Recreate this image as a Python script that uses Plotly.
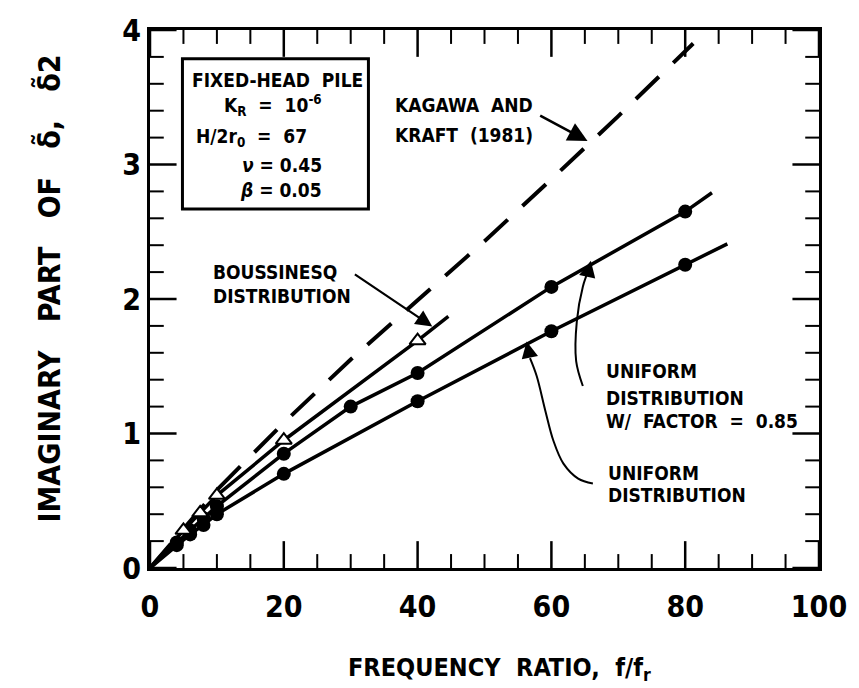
import numpy as np
import plotly.graph_objects as go

# ---- data -------------------------------------------------------------
# uniform distribution (solid circles)
uni_x = [4, 6, 8, 10, 20, 40, 60, 80]
uni_y = [0.17, 0.25, 0.32, 0.40, 0.70, 1.24, 1.76, 2.255]
uni_end = [86.3, 2.41]

# uniform distribution with factor 0.85 (solid circles)
fac_x = [4, 6, 8, 10, 20, 30, 40, 60, 80]
fac_y = [0.19, 0.28, 0.37, 0.46, 0.85, 1.20, 1.45, 2.09, 2.65]
fac_end = [84.0, 2.79]

# Boussinesq distribution (open triangles)
bou_x = [5, 7.5, 10, 20, 40]
bou_y = [0.28, 0.41, 0.54, 0.95, 1.69]
bou_end = [44.6, 1.87]

# Kagawa and Kraft (1981), dashed
kk_x = [0, 10, 20, 30, 40, 50, 60, 70, 81.2]
kk_y = [0, 0.58, 1.08, 1.55, 1.99, 2.43, 2.89, 3.36, 3.90]

x_ticks = [0, 20, 40, 60, 80, 100]
y_ticks = [0, 1, 2, 3, 4]
x_minor_step = 5
y_minor_step = 0.2

FONT = "DejaVu Sans Condensed, DejaVu Sans, sans-serif"

W, H = 859, 688
M = dict(l=150, r=29, t=27, b=120)

fig = go.Figure()

def curve(xs, ys, end):
    return [0] + list(xs) + [end[0]], [0] + list(ys) + [end[1]]

for xs, ys, end in [(uni_x, uni_y, uni_end), (fac_x, fac_y, fac_end), (bou_x, bou_y, bou_end)]:
    lx, ly = curve(xs, ys, end)
    fig.add_trace(go.Scatter(x=lx, y=ly, mode="lines",
                             line=dict(color="black", width=3.5), hoverinfo="skip"))

fig.add_trace(go.Scatter(x=kk_x, y=kk_y, mode="lines",
                         line=dict(color="black", width=4, dash="32px,20px")))

fig.add_trace(go.Scatter(x=uni_x, y=uni_y, mode="markers",
                         marker=dict(symbol="circle", size=14, color="black")))
fig.add_trace(go.Scatter(x=fac_x, y=fac_y, mode="markers",
                         marker=dict(symbol="circle", size=14, color="black")))
fig.add_trace(go.Scatter(x=bou_x, y=bou_y, mode="markers",
                         marker=dict(symbol="triangle-up", size=14, color="white",
                                     line=dict(color="black", width=2))))

# curved leader lines for the uniform-distribution labels
fac_lead_x = [64.7, 63.7, 63.8, 64.7, 65.6]
fac_lead_y = [1.353, 1.538, 1.834, 2.092, 2.22]
uni_lead_x = [66.2, 64.0, 61.8, 60.3, 59.1, 57.8, 56.8]
uni_lead_y = [0.628, 0.665, 0.776, 0.946, 1.168, 1.427, 1.56]
for lx, ly in [(fac_lead_x, fac_lead_y), (uni_lead_x, uni_lead_y)]:
    fig.add_trace(go.Scatter(x=lx, y=ly, mode="lines",
                             line=dict(color="black", width=2, shape="spline", smoothing=1.0)))

# ---- inward tick marks on all four sides, drawn as line segments ----
x_lo, x_hi = x_ticks[0], x_ticks[-1]
y_lo, y_hi = y_ticks[0], y_ticks[-1]
x_per_px = (x_hi - x_lo) / (W - M["l"] - M["r"])
y_per_px = (y_hi - y_lo) / (H - M["t"] - M["b"])
MAJOR_LEN, MINOR_LEN = 27, 14

x_minor = [float(v) for v in np.arange(x_lo, x_hi + 1e-9, x_minor_step) if v not in x_ticks]
y_minor = [round(float(v), 6) for v in np.arange(y_lo, y_hi + 1e-9, y_minor_step)]
y_minor = [v for v in y_minor if v not in y_ticks]

def tick_segments(xvals, yvals, length_px):
    sx, sy = [], []
    dy = length_px * y_per_px
    dx = length_px * x_per_px
    for v in xvals:                      # bottom and top edges
        sx += [v, v, None, v, v, None]
        sy += [y_lo, y_lo + dy, None, y_hi, y_hi - dy, None]
    for v in yvals:                      # left and right edges
        sx += [x_lo, x_lo + dx, None, x_hi, x_hi - dx, None]
        sy += [v, v, None, v, v, None]
    return sx, sy

for xv, yv, length, width in [(x_ticks, y_ticks, MAJOR_LEN, 2.5),
                              (x_minor, y_minor, MINOR_LEN, 2)]:
    sx, sy = tick_segments(xv, yv, length)
    fig.add_trace(go.Scatter(x=sx, y=sy, mode="lines", hoverinfo="skip",
                             line=dict(color="black", width=width)))

ann = []

def arrow(x_tail, y_tail, x_tip, y_tip, width=2.2, size=1.5):
    ann.append(dict(x=x_tip, y=y_tip, ax=x_tail, ay=y_tail, xref="x", yref="y",
                    axref="x", ayref="y", text="", showarrow=True, arrowhead=2,
                    arrowsize=size, arrowwidth=width, arrowcolor="black"))

# arrows pointing to the curves
arrow(58.1, 3.37, 65.4, float(np.interp(65.4, kk_x, kk_y)) + 0.03, width=2.6)
bx, by = curve(bou_x, bou_y, bou_end)
arrow(30.4, 2.19, 42.2, float(np.interp(42.2, bx, by)) + 0.02)
fx, fy = curve(fac_x, fac_y, fac_end)
arrow(fac_lead_x[-1], fac_lead_y[-1], 65.9, float(np.interp(65.9, fx, fy)) + 0.03)
ux, uy = curve(uni_x, uni_y, uni_end)
arrow(uni_lead_x[-1], uni_lead_y[-1], 56.3, float(np.interp(56.3, ux, uy)) + 0.02)

def label(x, y, text, anchor="left", size=19):
    ann.append(dict(x=x, y=y, xref="x", yref="y", text=text, showarrow=False,
                    xanchor=anchor, yanchor="middle",
                    font=dict(family=FONT, size=size, color="black", weight="bold")))

# parameter box
label(19.1, 3.63, "FIXED-HEAD  PILE", anchor="center")
label(26.0, 3.44, "K<sub>R</sub>  =  10<sup>-6</sup>", anchor="right")
label(23.8, 3.20, "H/2r<sub>0</sub>  =  67", anchor="right")
label(26.0, 3.00, "<i>ν</i> = 0.45", anchor="right")
label(26.0, 2.81, "<i>β</i> = 0.05", anchor="right")

label(36.3, 3.446, "KAGAWA  AND")
label(36.3, 3.216, "KRAFT  (1981)")
label(9.1, 2.203, "BOUSSINESQ")
label(9.1, 2.026, "DISTRIBUTION")
label(67.9, 1.464, "UNIFORM")
label(67.9, 1.264, "DISTRIBUTION")
label(67.9, 1.094, "W/  FACTOR  =  0.85")
label(68.1, 0.710, "UNIFORM")
label(68.1, 0.540, "DISTRIBUTION")

# axis titles
ann.append(dict(x=0.522, y=-0.1885, xref="paper", yref="paper", showarrow=False,
                text="FREQUENCY  RATIO,  f/f<sub>r</sub>", xanchor="center", yanchor="middle",
                font=dict(family=FONT, size=25, color="black", weight="bold")))
ann.append(dict(x=-0.152, y=0.52, xref="paper", yref="paper", showarrow=False,
                text="IMAGINARY   PART   OF   δ\u0303,   δ\u03032", textangle=-90,
                xanchor="center", yanchor="middle",
                font=dict(family=FONT, size=30, color="black", weight="bold")))

shapes = [dict(type="rect", xref="x", yref="y", x0=4.85, x1=32.65, y0=2.669, y1=3.786,
               line=dict(color="black", width=3), fillcolor="rgba(0,0,0,0)")]

label_font = dict(family=FONT, size=30, color="black")

fig.update_layout(
    width=W, height=H,
    margin=M,
    paper_bgcolor="white", plot_bgcolor="white",
    showlegend=False,
    annotations=ann, shapes=shapes,
    xaxis=dict(range=[x_lo, x_hi], tickmode="array", tickvals=x_ticks,
               ticktext=[f"<b>{v}</b>" for v in x_ticks], showgrid=False,
               zeroline=False, showline=True, linecolor="black", linewidth=3, mirror=True,
               ticks="outside", ticklen=10, tickcolor="rgba(0,0,0,0)", tickfont=label_font),
    yaxis=dict(range=[y_lo, y_hi], tickmode="array", tickvals=y_ticks,
               ticktext=[f"<b>{v}</b>" for v in y_ticks], showgrid=False,
               zeroline=False, showline=True, linecolor="black", linewidth=3, mirror=True,
               ticks="", tickfont=label_font),
)

fig.write_html("out.html")
